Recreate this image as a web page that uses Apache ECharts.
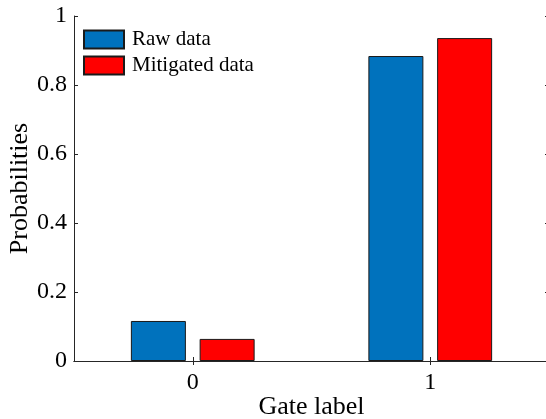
<!DOCTYPE html>
<html>
<head>
<meta charset="utf-8">
<script src="https://cdn.jsdelivr.net/npm/echarts@6/dist/echarts.min.js"></script>
<style>html,body{margin:0;padding:0;background:#fff}#c{width:546px;height:419px}</style>
</head>
<body>
<div id="c"></div>
<script>
var categories = ['0', '1'];
var rawData = [0.116, 0.884];
var mitigatedData = [0.064, 0.936];
var yTicks = [0, 0.2, 0.4, 0.6, 0.8, 1];

var FONT = '"Liberation Serif", "Times New Roman", serif';
var chart = echarts.init(document.getElementById('c'));
var axisLine = {show: true, lineStyle: {color: '#262626', width: 1}};
chart.setOption({
  animation: false,
  textStyle: {fontFamily: FONT},
  grid: {left: 74, right: -3, top: 16, bottom: 58, containLabel: false, outerBoundsMode: 'none'},
  legend: {
    left: 83, top: 29, orient: 'vertical', icon: 'rect', padding: 0,
    itemWidth: 40, itemHeight: 18, itemGap: 5,
    textStyle: {fontFamily: FONT, fontSize: 21, lineHeight: 18, color: '#000', padding: [0,0,0,3]},
    data: ['Raw data', 'Mitigated data']
  },
  xAxis: [{
    type: 'category', data: categories, position: 'bottom',
    axisLine: axisLine,
    axisTick: {show: true, inside: true, length: 4, alignWithLabel: true, lineStyle: {color: '#262626'}},
    axisLabel: {fontFamily: FONT, fontSize: 24, color: '#000', margin: 10},
    name: 'Gate label', nameLocation: 'middle', nameGap: 33, nameMoveOverlap: false,
    nameTextStyle: {fontFamily: FONT, fontSize: 26, color: '#000', verticalAlign: 'top'}
  }, {
    type: 'category', data: categories, position: 'top',
    axisLine: axisLine,
    axisTick: {show: true, inside: true, length: 4, alignWithLabel: true, lineStyle: {color: '#262626'}},
    axisLabel: {show: false}
  }],
  yAxis: [{
    type: 'value', min: 0, max: 1, interval: 0.2, position: 'left',
    axisLine: axisLine,
    axisTick: {show: true, inside: true, length: 4, lineStyle: {color: '#262626'}},
    splitLine: {show: false},
    axisLabel: {fontFamily: FONT, fontSize: 24, color: '#000', margin: 7,
      formatter: function (v) { return yTicks.indexOf(v) >= 0 ? String(v) : ''; }},
    name: 'Probabilities', nameLocation: 'middle', nameGap: 41, nameMoveOverlap: false,
    nameTextStyle: {fontFamily: FONT, fontSize: 26, color: '#000'}
  }, {
    type: 'value', min: 0, max: 1, interval: 0.2, position: 'right',
    axisLine: axisLine,
    axisTick: {show: true, inside: true, length: 4, lineStyle: {color: '#262626'}},
    splitLine: {show: false},
    axisLabel: {show: false}
  }],
  series: [{
    name: 'Raw data', type: 'bar', data: rawData, barWidth: 55, barGap: '25%',
    itemStyle: {color: '#0072BD', borderColor: '#1a1a1a', borderWidth: 1}
  }, {
    name: 'Mitigated data', type: 'bar', data: mitigatedData, barWidth: 55, barGap: '25%',
    itemStyle: {color: '#FF0000', borderColor: '#1a1a1a', borderWidth: 1}
  }]
});
</script>
</body>
</html>
